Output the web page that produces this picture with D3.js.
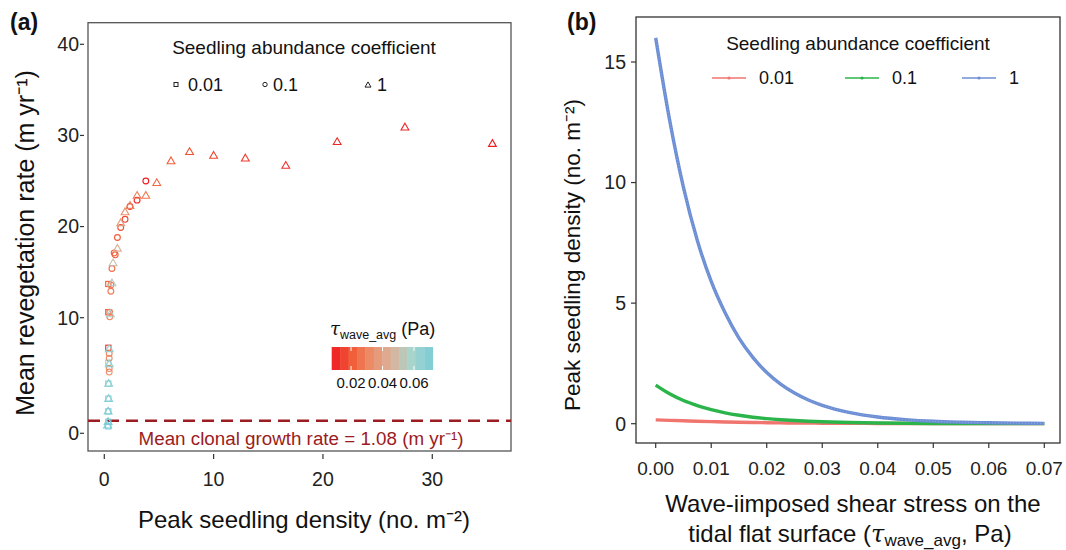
<!DOCTYPE html>
<html><head><meta charset="utf-8">
<script src="https://cdn.jsdelivr.net/npm/d3@7"></script>
<style>
body{margin:0;background:#fff;}
text{font-family:"Liberation Sans",Arial,sans-serif;fill:#111;}
</style></head>
<body><svg id="c" width="1066" height="550"></svg>
<script>
// ---------- Panel (a) data ----------
const sqX   = [0.37,0.37,0.37,0.37,0.37,0.37,0.37,0.37,0.37];
const sqY   = [13.7,10.6,7.4,6.1,4.3,3.0,1.9,1.0,0.6];
const sqTau = [0.020,0.018,0.012,0.062,0.066,0.068,0.070,0.071,0.0715];

const ciX   = [3.8,3.0,2.35,1.9,1.5,1.2,1.0,0.9,0.7,0.6,0.6,0.5,0.5,0.45,0.45,0.45,0.45];
const ciY   = [25.0,22.9,22.2,20.8,19.9,18.8,16.9,17.1,15.4,13.6,12.9,10.6,10.1,6.9,6.5,5.6,5.3];
const ciTau = [0.008,0.010,0.013,0.016,0.018,0.020,0.022,0.023,0.025,0.027,0.028,0.029,0.030,0.031,0.032,0.033,0.034];

const trX   = [35.5,27.5,21.3,16.6,12.9,10.0,7.8,6.1,4.8,3.8,3.0,2.35,1.9,1.5,1.2,0.8,0.7,0.55,0.45,0.45,0.4,0.4,0.35,0.35,0.3];
const trY   = [29.1,30.9,29.3,26.7,27.5,27.8,28.2,27.2,24.8,23.4,23.4,22.3,21.6,20.4,17.6,16.0,13.8,10.4,7.3,6.0,4.3,3.0,1.9,1.0,0.7];
const trTau = [0.008,0.009,0.010,0.012,0.014,0.016,0.018,0.021,0.024,0.027,0.029,0.031,0.033,0.038,0.045,0.050,0.054,0.060,0.064,0.066,0.067,0.068,0.070,0.071,0.0715];

const clonalRate = 1.08;
const aXTicks = [0,10,20,30];
const aYTicks = [0,10,20,30,40];
const cbTicks = [0.02,0.04,0.06];
const coefLabels = ["0.01","0.1","1"];

// ---------- Panel (b) data ----------
const tauB   = [0,0.0025,0.005,0.0075,0.01,0.0125,0.015,0.0175,0.02,0.0225,0.025,0.0275,0.03,0.035,0.04,0.045,0.05,0.055,0.06,0.065,0.07];
const dens1  = [16.0,12.6,9.8,7.6,5.9,4.6,3.55,2.75,2.12,1.64,1.27,0.98,0.76,0.46,0.28,0.17,0.10,0.062,0.037,0.022,0.014];
const dens01 = [1.6,1.24,0.96,0.75,0.58,0.45,0.35,0.27,0.21,0.165,0.13,0.10,0.078,0.047,0.028,0.017,0.010,0.006,0.004,0.002,0.0015];
const dens001= [0.16,0.14,0.12,0.10,0.085,0.072,0.06,0.05,0.042,0.035,0.029,0.024,0.02,0.014,0.01,0.007,0.005,0.004,0.003,0.002,0.002];
const bXTicks = [0,0.01,0.02,0.03,0.04,0.05,0.06,0.07];
const bYTicks = [0,5,10,15];

const svg = d3.select("#c");

// colour scale for tau
const tauColor = d3.scaleLinear()
  .domain([0.0077,0.02,0.032,0.046,0.058,0.0719])
  .range(["#ED1C24","#F25A36","#EC8B67","#D9B39B","#A9D4CB","#7ACCD8"])
  .clamp(true);

// ================= Panel (a) =================
const ax = d3.scaleLinear().domain([-1.49,37.2]).range([88,511]);
const ay = d3.scaleLinear().domain([-1.53,0,10,40,42.4]).range([451,433.3,317.7,44.3,22.7]);
const A = svg.append("g");

A.append("rect").attr("x",88).attr("y",22.7).attr("width",511-88).attr("height",451-22.7)
  .attr("fill","none").attr("stroke","#555").attr("stroke-width",1.3);

aYTicks.forEach(t=>{
  A.append("line").attr("x1",80).attr("x2",84).attr("y1",ay(t)).attr("y2",ay(t)).attr("stroke","#333").attr("stroke-width",1.2);
  A.append("text").attr("x",79).attr("y",ay(t)).attr("dy","0.35em").attr("text-anchor","end")
   .style("font-size","19.5px").style("fill","#222").text(t);
});
aXTicks.forEach(t=>{
  A.append("line").attr("x1",ax(t)).attr("x2",ax(t)).attr("y1",454).attr("y2",459).attr("stroke","#333").attr("stroke-width",1.2);
  A.append("text").attr("x",ax(t)).attr("y",486).attr("text-anchor","middle")
   .style("font-size","19.5px").style("fill","#222").text(t);
});

A.append("line").attr("x1",88).attr("x2",511).attr("y1",ay(clonalRate)).attr("y2",ay(clonalRate))
  .attr("stroke","#9B1C22").attr("stroke-width",2.6).attr("stroke-dasharray","12,7");
A.append("text").attr("x",301).attr("y",445).attr("text-anchor","middle")
  .style("font-size","18.8px").style("fill","#9B1C22").text("Mean clonal growth rate = 1.08 (m yr\u207B\u00B9)");

const pts = A.append("g").attr("fill","none").attr("stroke-width",1.1);
sqX.forEach((x,i)=>{
  pts.append("rect").attr("x",ax(x)-2.6).attr("y",ay(sqY[i])-2.6).attr("width",5.2).attr("height",5.2)
    .attr("stroke",tauColor(sqTau[i]));
});
ciX.forEach((x,i)=>{
  pts.append("circle").attr("cx",ax(x)).attr("cy",ay(ciY[i])).attr("r",2.9).attr("stroke",tauColor(ciTau[i]));
});
const tri = (cx,cy,s)=>`M${cx},${cy-s*0.62}L${cx+s*0.6},${cy+s*0.42}L${cx-s*0.6},${cy+s*0.42}Z`;
trX.forEach((x,i)=>{
  pts.append("path").attr("d",tri(ax(x),ay(trY[i]),6.5)).attr("stroke",tauColor(trTau[i]));
});

// legend (a)
A.append("text").attr("x",304).attr("y",54).attr("text-anchor","middle").style("font-size","19px").text("Seedling abundance coefficient");
const lgA = A.append("g").attr("fill","none").attr("stroke","#222").attr("stroke-width",1);
lgA.append("rect").attr("x",174).attr("y",82.5).attr("width",4).attr("height",4);
lgA.append("circle").attr("cx",265).attr("cy",84.5).attr("r",2.2);
lgA.append("path").attr("d",tri(368,85,5));
[[188,coefLabels[0]],[273,coefLabels[1]],[377,coefLabels[2]]].forEach(d=>{
  A.append("text").attr("x",d[0]).attr("y",91).style("font-size","18px").text(d[1]);
});

// colour bar
const cbx = d3.scaleLinear().domain([0.0077,0.0719]).range([331.7,432.7]);
const nb = 12, bw = (0.0719-0.0077)/nb;
d3.range(nb).forEach(i=>{
  const t0 = 0.0077+i*bw;
  A.append("rect").attr("x",cbx(t0)).attr("y",347).attr("width",cbx(t0+bw)-cbx(t0)+0.4).attr("height",23)
   .attr("fill",tauColor(t0+bw/2));
});
cbTicks.forEach(t=>{
  A.append("line").attr("x1",cbx(t)).attr("x2",cbx(t)).attr("y1",347).attr("y2",351).attr("stroke","#fff").attr("stroke-width",1);
  A.append("line").attr("x1",cbx(t)).attr("x2",cbx(t)).attr("y1",366).attr("y2",370).attr("stroke","#fff").attr("stroke-width",1);
  A.append("text").attr("x",cbx(t)).attr("y",388).attr("text-anchor","middle").style("font-size","15px").text(t.toFixed(2));
});
const cbt = A.append("text").attr("x",330).attr("y",335).style("font-size","18px");
cbt.append("tspan").style("font-family","DejaVu Serif").style("font-style","italic").text("\u03C4");
cbt.append("tspan").attr("dy",4).style("font-size","12.5px").text("wave_avg");
cbt.append("tspan").attr("dy",-4).text(" (Pa)");

// axis titles (a)
A.append("text").attr("transform","translate(34,243) rotate(-90)").attr("text-anchor","middle")
  .style("font-size","25px").text("Mean revegetation rate (m yr\u207B\u00B9)");
A.append("text").attr("x",304).attr("y",528).attr("text-anchor","middle")
  .style("font-size","24px").text("Peak seedling density (no. m\u207B\u00B2)");
A.append("text").attr("x",10).attr("y",30).style("font-size","23px").style("font-weight","bold").text("(a)");

// ================= Panel (b) =================
const bx = d3.scaleLinear().domain([0,0.07]).range([655.7,1044.3]);
const by = d3.scaleLinear().domain([0,15]).range([423.7,62]);
const B = svg.append("g");
const L = 636, R = 1060, T = 17, Bt = 443;
B.append("rect").attr("x",L).attr("y",T).attr("width",R-L).attr("height",Bt-T)
  .attr("fill","none").attr("stroke","#333").attr("stroke-width",1.3);
bYTicks.forEach(t=>{
  B.append("line").attr("x1",L-5).attr("x2",L).attr("y1",by(t)).attr("y2",by(t)).attr("stroke","#333").attr("stroke-width",1.2);
  B.append("text").attr("x",L-10).attr("y",by(t)).attr("dy","0.35em").attr("text-anchor","end")
   .style("font-size","19.5px").style("fill","#222").text(t);
});
bXTicks.forEach(t=>{
  B.append("line").attr("x1",bx(t)).attr("x2",bx(t)).attr("y1",Bt).attr("y2",Bt+5).attr("stroke","#333").attr("stroke-width",1.2);
  B.append("text").attr("x",bx(t)).attr("y",475).attr("text-anchor","middle")
   .style("font-size","19px").style("fill","#222").text(t.toFixed(2));
});

const series = [
  {v:dens001, c:"#F0756F"},
  {v:dens01,  c:"#2BB44A"},
  {v:dens1,   c:"#6C8ED4"}
];
const line = d3.line().x((d,i)=>bx(tauB[i])).y(d=>by(d)).curve(d3.curveMonotoneX);
series.forEach(s=>{
  B.append("path").datum(s.v).attr("d",line).attr("fill","none").attr("stroke",s.c).attr("stroke-width",3.4);
});
B.append("path").datum(dens1).attr("d",line).attr("fill","none").attr("stroke","#9AB2E4")
  .attr("stroke-width",1).attr("stroke-dasharray","1,2").attr("opacity",0.7);

// legend (b)
B.append("text").attr("x",858).attr("y",50).attr("text-anchor","middle").style("font-size","19px").text("Seedling abundance coefficient");
[[712,coefLabels[0],series[0].c],[845,coefLabels[1],series[1].c],[962,coefLabels[2],series[2].c]].forEach(d=>{
  B.append("line").attr("x1",d[0]).attr("x2",d[0]+34).attr("y1",78).attr("y2",78).attr("stroke",d[2]).attr("stroke-width",1.6);
  B.append("circle").attr("cx",d[0]+17).attr("cy",78).attr("r",1.6).attr("fill",d[2]);
  B.append("text").attr("x",d[0]+47).attr("y",84).style("font-size","18px").text(d[1]);
});

// axis titles (b)
B.append("text").attr("transform","translate(580,255) rotate(-90)").attr("text-anchor","middle")
  .style("font-size","22.5px").text("Peak seedling density (no. m\u207B\u00B2)");
B.append("text").attr("x",853).attr("y",512).attr("text-anchor","middle").style("font-size","24px")
  .text("Wave-iimposed shear stress on the");
const t2 = B.append("text").attr("x",850).attr("y",542).attr("text-anchor","middle").style("font-size","24px");
t2.append("tspan").text("tidal flat surface (");
t2.append("tspan").style("font-family","DejaVu Serif").style("font-style","italic").text("\u03C4");
t2.append("tspan").attr("dy",4).style("font-size","17px").text("wave_avg");
t2.append("tspan").attr("dy",-4).text(", Pa)");
B.append("text").attr("x",567).attr("y",30).style("font-size","23px").style("font-weight","bold").text("(b)");
</script></body></html>
